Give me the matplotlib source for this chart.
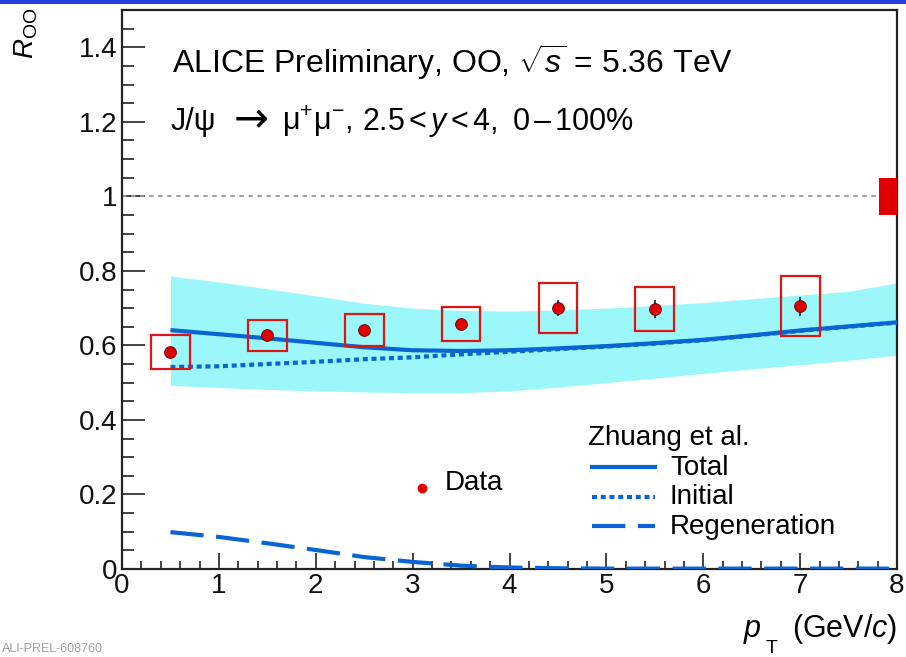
import matplotlib
matplotlib.use("Agg")
import matplotlib.pyplot as plt
from matplotlib.patches import Rectangle
import numpy as np

plt.rcParams['font.family'] = ['Liberation Sans', 'DejaVu Sans']
plt.rcParams['mathtext.fontset'] = 'custom'
plt.rcParams['mathtext.rm'] = 'Liberation Sans'
plt.rcParams['mathtext.it'] = 'Liberation Sans:italic'
plt.rcParams['mathtext.bf'] = 'Liberation Sans:bold'

# ---- data ----
pt = [0.5, 1.5, 2.5, 3.5, 4.5, 5.5, 7.0]
pt_halfwidth = [0.2, 0.2, 0.2, 0.2, 0.2, 0.2, 0.2]
r_oo = [0.582, 0.627, 0.641, 0.657, 0.700, 0.697, 0.705]
stat = [0.010, 0.010, 0.010, 0.012, 0.021, 0.024, 0.025]
syst = [0.045, 0.041, 0.043, 0.046, 0.068, 0.059, 0.080]
global_unc = 0.05

model_pt = [0.5, 1.0, 1.5, 2.0, 2.5, 3.0, 3.5, 4.0, 4.5, 5.0, 5.5, 6.0, 6.5, 7.0, 7.5, 8.0]
total = [0.641, 0.630, 0.619, 0.607, 0.595, 0.587, 0.585, 0.587, 0.592, 0.598, 0.606, 0.615, 0.627, 0.640, 0.651, 0.662]
initial = [0.542, 0.544, 0.550, 0.556, 0.563, 0.568, 0.576, 0.583, 0.590, 0.597, 0.605, 0.614, 0.626, 0.639, 0.650, 0.661]
regen = [0.099, 0.086, 0.069, 0.051, 0.032, 0.019, 0.009, 0.004, 0.002, 0.001, 0.001, 0.001, 0.001, 0.001, 0.001, 0.001]
band_hi = [0.786, 0.770, 0.752, 0.733, 0.713, 0.700, 0.694, 0.692, 0.695, 0.700, 0.707, 0.715, 0.725, 0.735, 0.745, 0.768]
band_lo = [0.493, 0.487, 0.482, 0.478, 0.475, 0.473, 0.473, 0.478, 0.488, 0.500, 0.512, 0.525, 0.537, 0.548, 0.560, 0.574]

W, H = 906, 657
fig = plt.figure(figsize=(W / 100, H / 100), dpi=100)
ax = fig.add_axes([122 / W, (H - 569) / H, (897 - 122) / W, (569 - 10) / H])

line_col = '#0a64d2'
band_col = '#9cf7fa'
red = '#e00000'

ax.fill_between(model_pt, band_lo, band_hi, color=band_col, lw=0, zorder=1)
ax.axhline(1.0, color='#9a9a9a', ls=(0, (2.5, 2.5)), lw=1.3, zorder=2)
ax.plot(model_pt, total, color=line_col, lw=3.0, zorder=3, solid_capstyle='butt')
ax.plot(model_pt, initial, color=line_col, lw=3.0, dashes=(1.2, 0.9), zorder=3)
ax.plot(model_pt, regen, color=line_col, lw=3.0, dashes=(8, 3), zorder=3)

for x, y, hw, s in zip(pt, r_oo, pt_halfwidth, syst):
    ax.add_patch(Rectangle((x - hw, y - s), 2 * hw, 2 * s, fill=False,
                           edgecolor='#dd1515', lw=1.6, zorder=4))
ax.errorbar(pt, r_oo, yerr=stat, fmt='o', color=red, mec='#600000', mew=0.6,
            ms=8.5, ecolor='#222222', elinewidth=1.2, capsize=0, zorder=5)

# global uncertainty box
ax.add_patch(Rectangle((8.0 - 0.19, 1 - global_unc), 0.19, 2 * global_unc,
                       facecolor=red, edgecolor='none', zorder=4, clip_on=False))

ax.set_xlim(0, 8)
ax.set_ylim(0, 1.5)
ax.set_xticks(range(0, 9))
ax.set_xticks(np.arange(0, 8.01, 0.2), minor=True)
ax.set_yticks([0, 0.2, 0.4, 0.6, 0.8, 1.0, 1.2, 1.4])
ax.set_yticklabels(['0', '0.2', '0.4', '0.6', '0.8', '1', '1.2', '1.4'])
ax.set_yticks(np.arange(0, 1.501, 0.05), minor=True)

ax.tick_params(axis='both', which='both', direction='in', colors='#111111',
               labelsize=20, width=1.1)
ax.tick_params(axis='y', which='major', length=16.5, pad=3.5)
ax.tick_params(axis='y', which='minor', length=8.5)
ax.tick_params(axis='x', which='major', length=11.5, pad=3)
ax.tick_params(axis='x', which='minor', length=6)
for sp in ax.spines.values():
    sp.set_linewidth(1.6)
    sp.set_color('#222222')

def fx(px):
    return px / W

def fy(py):
    return (H - py) / H

# header texts
fig.text(fx(172), fy(73), r'ALICE Preliminary, OO, $\sqrt{s}$ = 5.36 TeV',
         fontsize=23, va='baseline', ha='left')
# second line placed piece by piece (ROOT-like spacing)
fig.text(fx(171), fy(130), 'J/ψ', fontsize=22, va='baseline', ha='left')
fig.text(fx(234), fy(131), '→', fontsize=30, va='baseline', ha='left',
         family='DejaVu Sans')
fig.text(fx(282), fy(130), r'μ$^{+}$μ$^{-}$,', fontsize=22, va='baseline', ha='left')
fig.text(fx(362), fy(130), r'2.5$\,$<$\,y\,$<$\,$4,', fontsize=22, va='baseline', ha='left')
fig.text(fx(512), fy(130), r'0$\,$–$\,$100%', fontsize=22, va='baseline', ha='left')

# axis titles
fig.text(fx(12), fy(8), r'$R_{\mathrm{OO}}$', rotation=90, fontsize=20,
         ha='left', va='top')
fig.text(fx(743), fy(637), r'$p$', fontsize=22, ha='left', va='baseline')
fig.text(fx(766), fy(653), 'T', fontsize=14, ha='left', va='baseline')
fig.text(fx(897), fy(637), r'(GeV/$c$)', fontsize=22, ha='right', va='baseline')

# legend drawn manually
fig.text(fx(588), fy(445), 'Zhuang et al.', fontsize=20, va='baseline')
leg_items = [('Total', None), ('Initial', (1.2, 0.9)), ('Regeneration', (8, 3))]
for i, (lab, dsh) in enumerate(leg_items):
    yline = 467 + 29.5 * i
    kw = dict(color=line_col, lw=3.0, transform=fig.transFigure, clip_on=False)
    if dsh is not None:
        kw['dashes'] = dsh
    fig.add_artist(plt.Line2D([fx(592), fx(655)], [fy(yline)] * 2, **kw))
    fig.text(fx(670), fy(yline + 8), lab, fontsize=20, va='baseline')

fig.add_artist(plt.Line2D([fx(422)], [fy(488)], marker='o', color=red,
                          ms=6, ls='none', transform=fig.transFigure))
fig.text(fx(445), fy(490), 'Data', fontsize=20, va='baseline')

# slide decorations
fig.add_artist(Rectangle((0, 1 - 4 / H), 1, 4 / H, transform=fig.transFigure,
                         facecolor='#1f3fe0', edgecolor='none'))
fig.text(fx(2), 1.5 / H, 'ALI-PREL-608760', fontsize=9, color='#a0a0a0',
         va='bottom', ha='left')

fig.savefig('out.png', dpi=100)
